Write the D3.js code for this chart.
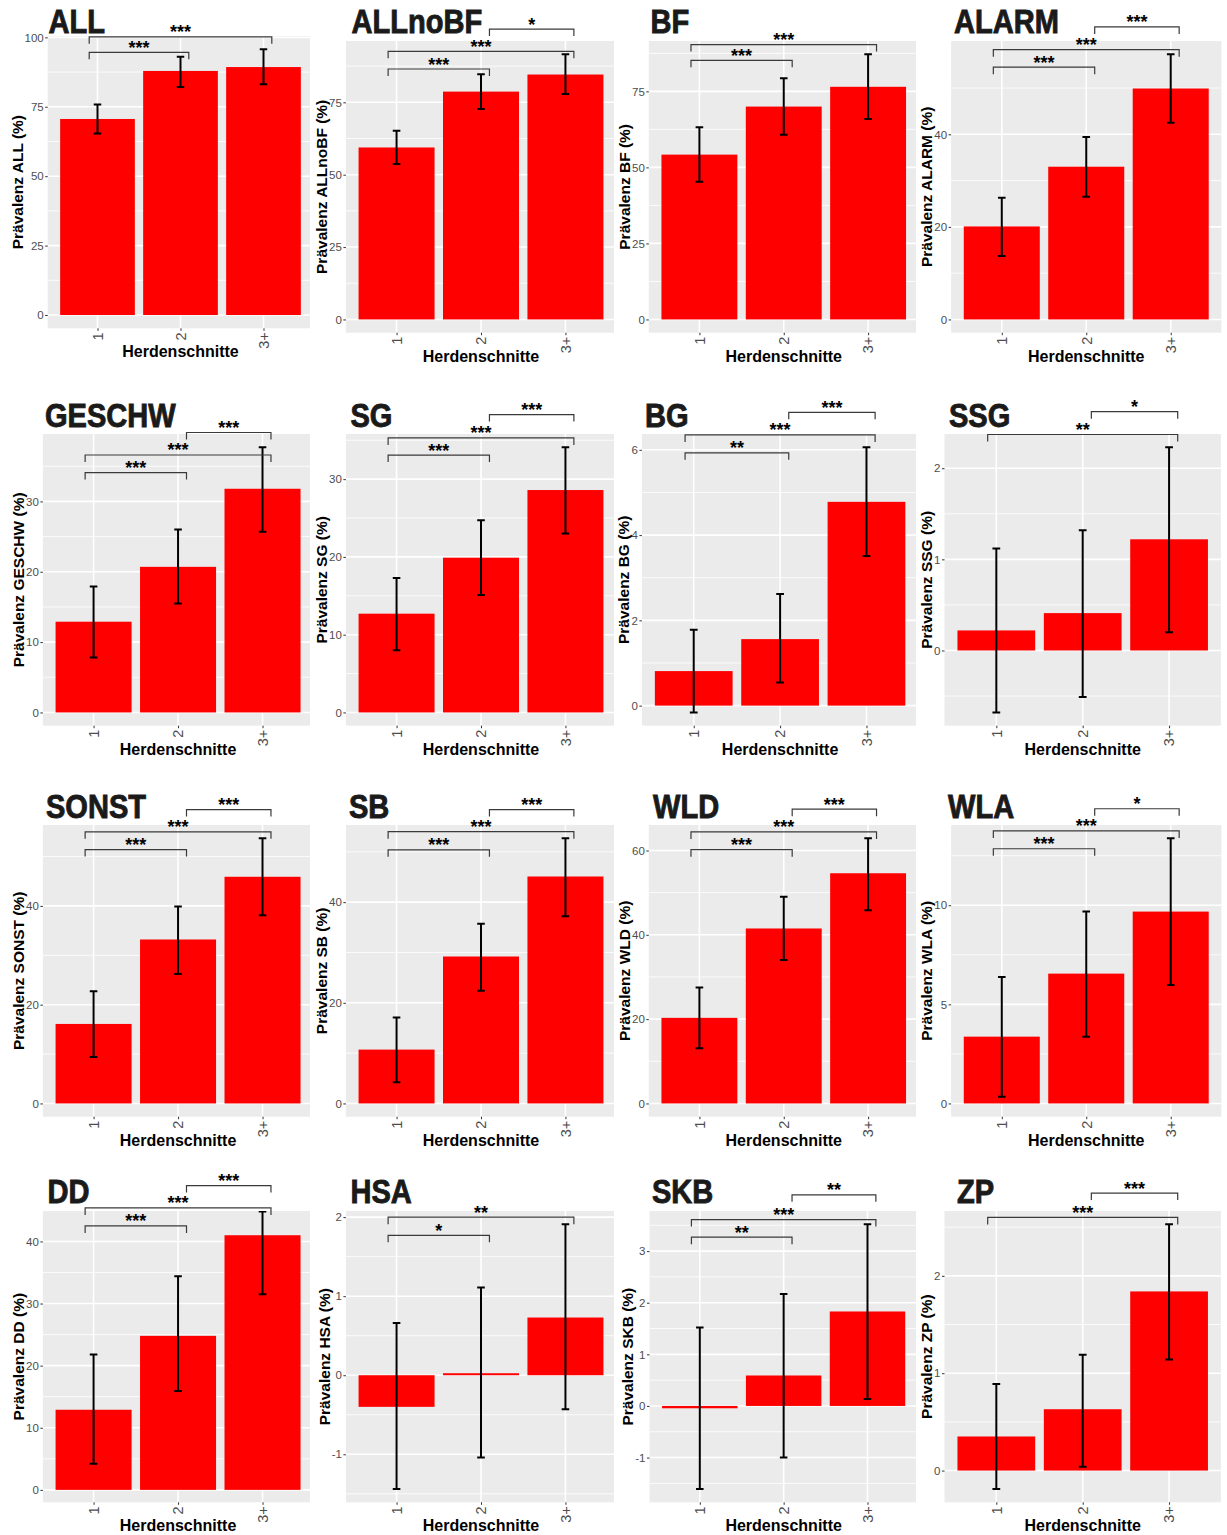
<!DOCTYPE html>
<html>
<head>
<meta charset="utf-8">
<script src="https://cdn.jsdelivr.net/npm/d3@7"></script>
<style>
  body { margin: 0; background: #fff; }
  svg text { font-family: "Liberation Sans", Arial, Helvetica, sans-serif; }
</style>
</head>
<body>
<svg id="chart" width="1227" height="1535"></svg>
<script>
// Prevalence by number of herd cuts ("Herdenschnitte"), one panel per finding
const panels = ["ALL", "ALLnoBF", "BF", "ALARM",
                "GESCHW", "SG", "BG", "SSG",
                "SONST", "SB", "WLD", "WLA",
                "DD", "HSA", "SKB", "ZP"];
const groups = ["1", "2", "3+"];

// bar heights (%)
const prevalence = [
  [70.6, 87.9, 89.3], [59.4, 78.7, 84.6], [54.2, 70.0, 76.5], [20.1, 33.0, 49.9],
  [12.9, 20.7, 31.8], [12.7, 19.9, 28.6], [0.81, 1.56, 4.78], [0.22, 0.41, 1.22],
  [16.1, 33.2, 45.9], [10.7, 29.2, 45.1], [20.3, 41.5, 54.6], [3.37, 6.55, 9.68],
  [12.9, 24.8, 41.0], [-0.40, 0.025, 0.73], [-0.045, 0.59, 1.83], [0.35, 0.63, 1.84]
];
// lower and upper error bar ends (%)
const ciLower = [
  [65.4, 82.1, 83.1], [53.7, 72.7, 77.9], [45.3, 60.7, 65.9], [13.7, 26.5, 42.5],
  [7.8, 15.5, 25.7], [8.0, 15.1, 23.0], [-0.16, 0.54, 3.51], [-0.68, -0.51, 0.20],
  [9.4, 26.2, 38.1], [4.2, 22.4, 37.2], [13.1, 34.0, 45.8], [0.34, 3.37, 5.98],
  [4.2, 15.9, 31.5], [-1.44, -1.04, -0.43], [-1.61, -1.0, 0.135], [-0.19, 0.04, 1.14]
];
const ciUpper = [
  [75.8, 93.0, 95.7], [65.2, 84.7, 91.6], [63.2, 79.3, 87.2], [26.3, 39.4, 57.3],
  [17.9, 26.0, 37.7], [17.3, 24.7, 34.1], [1.78, 2.62, 6.06], [1.12, 1.32, 2.23],
  [22.7, 39.9, 53.7], [17.1, 35.7, 52.7], [27.5, 49.0, 62.9], [6.38, 9.68, 13.38],
  [21.8, 34.4, 44.8], [0.66, 1.11, 1.91], [1.52, 2.17, 3.52], [0.89, 1.19, 2.53]
];
// y axis breaks per panel
const yBreaks = [
  [0, 25, 50, 75, 100], [0, 25, 50, 75], [0, 25, 50, 75], [0, 20, 40],
  [0, 10, 20, 30], [0, 10, 20, 30], [0, 2, 4, 6], [0, 1, 2],
  [0, 20, 40], [0, 20, 40], [0, 20, 40, 60], [0, 5, 10],
  [0, 10, 20, 30, 40], [-1, 0, 1, 2], [-1, 0, 1, 2, 3], [0, 1, 2]
];
// y limits where the panel does not use the default 5% expansion
const yLimits = [null, null, null, null, null, null, null, null,
                 null, null, null, null, [-2.0, 44.9], null, null, null];
// pairwise comparisons: [group a, group b, bracket height, significance]
const comparisons = [
  [["1", "2", 94.6, "***"], ["1", "3+", 100.2, "***"]],
  [["1", "2", 86.5, "***"], ["1", "3+", 92.6, "***"], ["2", "3+", 100.3, "*"]],
  [["1", "2", 85.2, "***"], ["1", "3+", 90.4, "***"]],
  [["1", "2", 54.5, "***"], ["1", "3+", 58.3, "***"], ["2", "3+", 63.2, "***"]],
  [["1", "2", 34.1, "***"], ["1", "3+", 36.6, "***"], ["2", "3+", 39.8, "***"]],
  [["1", "2", 33.1, "***"], ["1", "3+", 35.3, "***"], ["2", "3+", 38.3, "***"]],
  [["1", "2", 5.93, "**"], ["1", "3+", 6.35, "***"], ["2", "3+", 6.88, "***"]],
  [["1", "3+", 2.37, "**"], ["2", "3+", 2.62, "*"]],
  [["1", "2", 51.4, "***"], ["1", "3+", 55.0, "***"], ["2", "3+", 59.5, "***"]],
  [["1", "2", 50.4, "***"], ["1", "3+", 54.0, "***"], ["2", "3+", 58.4, "***"]],
  [["1", "2", 60.2, "***"], ["1", "3+", 64.4, "***"], ["2", "3+", 69.8, "***"]],
  [["1", "2", 12.85, "***"], ["1", "3+", 13.75, "***"], ["2", "3+", 14.87, "*"]],
  [["1", "2", 42.5, "***"], ["1", "3+", 45.4, "***"], ["2", "3+", 49.0, "***"]],
  [["1", "2", 1.77, "*"], ["1", "3+", 2.0, "**"]],
  [["1", "2", 3.27, "**"], ["1", "3+", 3.61, "***"], ["2", "3+", 4.09, "**"]],
  [["1", "3+", 2.60, "***"], ["2", "3+", 2.85, "***"]]
];

// ---- layout of the 4 x 4 grid (panel rectangle, visible right edge, title anchor) ----
const rowGeom = [
  { y0: 41, y1: 332.7, ty: 33.3 },
  { y0: 434, y1: 725.7, ty: 426.7 },
  { y0: 825, y1: 1116.7, ty: 817.7 },
  { y0: 1211, y1: 1502.3, ty: 1202.7 }
];
const colGeom = [
  [{ x0: 47.7, x1: 313.3, cut: 310, tx: 48.5 }, { x0: 345.9, x1: 616.1, cut: 614, tx: 351.5 }, { x0: 648.8, x1: 918.7, cut: 916, tx: 650.5 }, { x0: 951.1, x1: 1221.4, cut: 1221.4, tx: 954 }],
  [{ x0: 42.9, x1: 313.2, cut: 310, tx: 45 }, { x0: 345.9, x1: 616.1, cut: 614, tx: 350.5 }, { x0: 641.9, x1: 918.3, cut: 916, tx: 645 }, { x0: 944.5, x1: 1220.9, cut: 1220.9, tx: 949 }],
  [{ x0: 42.9, x1: 313.2, cut: 310, tx: 46 }, { x0: 345.9, x1: 616.1, cut: 614, tx: 349 }, { x0: 648.8, x1: 918.7, cut: 916, tx: 653 }, { x0: 951.1, x1: 1221.4, cut: 1221.4, tx: 948 }],
  [{ x0: 42.9, x1: 313.2, cut: 310, tx: 47.5 }, { x0: 345.9, x1: 616.1, cut: 614, tx: 350.5 }, { x0: 649.5, x1: 917.8, cut: 916, tx: 652 }, { x0: 944.5, x1: 1220.9, cut: 1220.9, tx: 957 }]
];
// the first panel starts a little higher
const topOverride = { 0: { y0: 36, y1: 328.3 } };

const BAR_FILL = "#FF0000";
const PANEL_BG = "#EBEBEB";
const groupNudge = [-0.1, 0.1, 0.1];   // bracket anchors relative to group centres
const TIP = 7;
const fmtTick = d => (d < 0 ? "-" : "") + Math.abs(d);

const svg = d3.select("#chart");

panels.forEach((name, i) => {
  const r = Math.floor(i / 4), c = i % 4;
  const geo = Object.assign({}, rowGeom[r], colGeom[r][c], topOverride[i] || {});
  const right = Math.min(geo.x1, geo.cut);

  const lo = Math.min(0, d3.min(ciLower[i]), d3.min(prevalence[i]));
  const hi = Math.max(0, d3.max(ciUpper[i]), d3.max(prevalence[i]));
  const pad = (hi - lo) * 0.05;
  const domain = yLimits[i] || [lo - pad, hi + pad];

  const y = d3.scaleLinear().domain(domain).range([geo.y1, geo.y0]);
  const x = d3.scaleLinear().domain([0.4, 3.6]).range([geo.x0, geo.x1]);
  const pos = gname => groups.indexOf(gname) + 1;

  const g = svg.append("g").attr("class", "panel panel-" + name);
  const clipId = "clip-" + i;
  g.append("clipPath").attr("id", clipId).append("rect")
    .attr("x", geo.x0).attr("y", geo.y0)
    .attr("width", right - geo.x0).attr("height", geo.y1 - geo.y0);

  g.append("rect")
    .attr("x", geo.x0).attr("y", geo.y0)
    .attr("width", right - geo.x0).attr("height", geo.y1 - geo.y0)
    .attr("fill", PANEL_BG);

  const inner = g.append("g").attr("clip-path", `url(#${clipId})`);

  // minor grid lines halfway between breaks
  const br = yBreaks[i];
  const step = br[1] - br[0];
  const minor = [];
  for (let k = -1; k < br.length; k++) {
    const v = br[0] + (k + 0.5) * step;
    if (v > domain[0] && v < domain[1]) minor.push(v);
  }
  inner.selectAll(".minor").data(minor).join("line")
    .attr("x1", geo.x0).attr("x2", geo.x1)
    .attr("y1", d => y(d)).attr("y2", d => y(d))
    .attr("stroke", "#fff").attr("stroke-width", 0.8);
  inner.selectAll(".major").data(br).join("line")
    .attr("x1", geo.x0).attr("x2", geo.x1)
    .attr("y1", d => y(d)).attr("y2", d => y(d))
    .attr("stroke", "#fff").attr("stroke-width", 1.6);
  inner.selectAll(".vgrid").data(groups).join("line")
    .attr("x1", d => x(pos(d))).attr("x2", d => x(pos(d)))
    .attr("y1", geo.y0).attr("y2", geo.y1)
    .attr("stroke", "#fff").attr("stroke-width", 1.6);

  // bars
  inner.selectAll(".bar").data(groups).join("rect")
    .attr("x", d => x(pos(d) - 0.45))
    .attr("width", x(1.45) - x(0.55))
    .attr("y", (d, k) => y(Math.max(0, prevalence[i][k])))
    .attr("height", (d, k) => Math.abs(y(prevalence[i][k]) - y(0)))
    .attr("fill", BAR_FILL);

  // error bars
  const eb = inner.selectAll(".eb").data(groups).join("g");
  const capW = x(1.045) - x(0.955);
  eb.append("line")
    .attr("x1", d => x(pos(d))).attr("x2", d => x(pos(d)))
    .attr("y1", (d, k) => y(ciLower[i][k])).attr("y2", (d, k) => y(ciUpper[i][k]))
    .attr("stroke", "#000").attr("stroke-width", 2);
  eb.append("line")
    .attr("x1", d => x(pos(d)) - capW / 2).attr("x2", d => x(pos(d)) + capW / 2)
    .attr("y1", (d, k) => y(ciLower[i][k])).attr("y2", (d, k) => y(ciLower[i][k]))
    .attr("stroke", "#000").attr("stroke-width", 2);
  eb.append("line")
    .attr("x1", d => x(pos(d)) - capW / 2).attr("x2", d => x(pos(d)) + capW / 2)
    .attr("y1", (d, k) => y(ciUpper[i][k])).attr("y2", (d, k) => y(ciUpper[i][k]))
    .attr("stroke", "#000").attr("stroke-width", 2);

  // y axis
  const yAxis = g.append("g").attr("transform", `translate(${geo.x0},0)`)
    .call(d3.axisLeft(y).tickValues(br).tickFormat(fmtTick)
      .tickSize(2.5).tickSizeOuter(0).tickPadding(1.5));
  yAxis.select(".domain").remove();
  yAxis.selectAll(".tick line").attr("stroke", "#333");
  yAxis.selectAll(".tick text").attr("fill", "#4D4D4D").style("font-size", "11.5px");

  // x axis with vertical labels
  const xAxis = g.append("g").attr("transform", `translate(0,${geo.y1})`)
    .call(d3.axisBottom(x).tickValues([1, 2, 3]).tickFormat(d => groups[d - 1])
      .tickSize(2.5).tickSizeOuter(0));
  xAxis.select(".domain").remove();
  xAxis.selectAll(".tick line").attr("stroke", "#333");
  xAxis.selectAll(".tick text")
    .attr("fill", "#4D4D4D").style("font-size", "14.5px")
    .attr("text-anchor", "end")
    .attr("x", -4).attr("y", 0).attr("dy", "0.33em")
    .attr("transform", "rotate(-90)");

  // axis titles
  const axBox = yAxis.node().getBBox();
  g.append("text")
    .attr("transform", `translate(${geo.x0 + axBox.x - 2},${(geo.y0 + geo.y1) / 2}) rotate(-90)`)
    .attr("text-anchor", "middle")
    .style("font-size", "15.5px").style("font-weight", "bold").attr("fill", "#000")
    .text(`Prävalenz ${name} (%)`);
  g.append("text")
    .attr("x", (geo.x0 + geo.x1) / 2).attr("y", geo.y1 + 29)
    .attr("text-anchor", "middle")
    .style("font-size", "16px").style("font-weight", "bold").attr("fill", "#000")
    .text("Herdenschnitte");

  // panel title
  g.append("text")
    .attr("transform", `translate(${geo.tx},${geo.ty}) scale(0.88,1)`)
    .style("font-size", "33px").style("font-weight", "bold")
    .attr("fill", "#1A1A1A").attr("stroke", "#1A1A1A").attr("stroke-width", 0.9)
    .text(name);

  // significance brackets
  const anchor = gname => pos(gname) + groupNudge[groups.indexOf(gname)];
  const sig = g.selectAll(".sig").data(comparisons[i]).join("g");
  sig.append("path")
    .attr("d", d => {
      const xa = x(anchor(d[0])), xb = x(anchor(d[1])), yy = y(d[2]);
      return `M${xa},${yy + TIP}V${yy}H${xb}V${yy + TIP}`;
    })
    .attr("fill", "none").attr("stroke", "#3a3a3a").attr("stroke-width", 1.2);
  sig.append("text")
    .attr("x", d => (x(anchor(d[0])) + x(anchor(d[1]))) / 2)
    .attr("y", d => y(d[2]) + 1.5)
    .attr("text-anchor", "middle")
    .style("font-size", "18px").style("font-weight", "bold").attr("fill", "#000")
    .text(d => d[3]);
});
</script>
</body>
</html>
